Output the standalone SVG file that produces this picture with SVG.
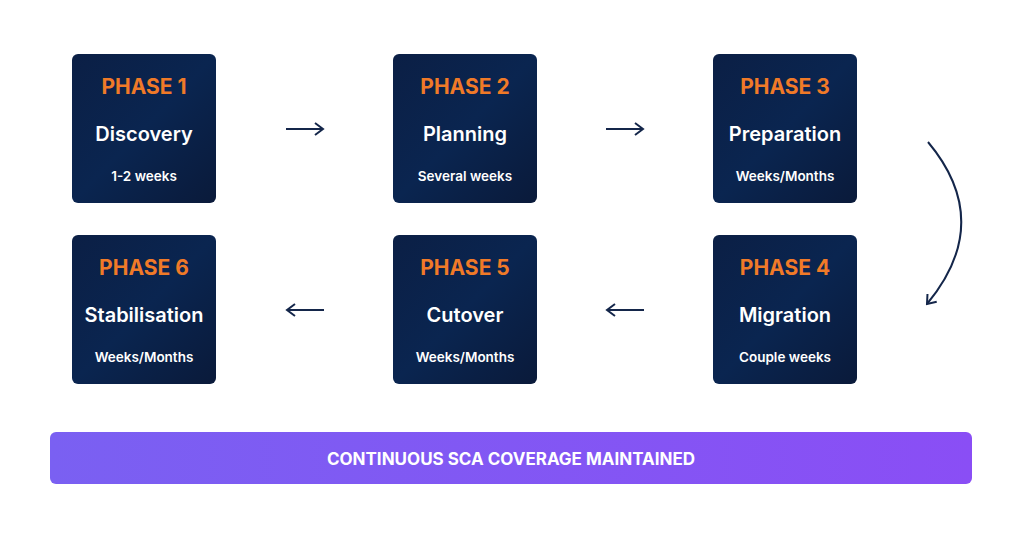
<svg xmlns="http://www.w3.org/2000/svg" width="1024" height="538" viewBox="0 0 1024 538">
<defs>
<linearGradient id="bg" x1="0" y1="0" x2="1" y2="1"><stop offset="0" stop-color="#0b1f45"/><stop offset="0.5" stop-color="#0a2550"/><stop offset="1" stop-color="#0a1a3a"/></linearGradient>
<linearGradient id="bar" x1="0" y1="0" x2="1" y2="0"><stop offset="0" stop-color="#7a60f2"/><stop offset="1" stop-color="#8a4ef5"/></linearGradient>
<marker id="ah" viewBox="0 0 14 14" refX="12" refY="7" markerWidth="14" markerHeight="14" markerUnits="userSpaceOnUse" orient="auto"><path d="M4,1 L12,7 L4,13" fill="none" stroke="#14264a" stroke-width="2"/></marker>
<style>
.box{fill:url(#bg)}
.ph{font-family:"Inter","Liberation Sans",sans-serif;font-weight:700;font-size:21px;fill:#f07a28;text-anchor:middle}
.nm{font-family:"Inter","Liberation Sans",sans-serif;font-weight:600;font-size:20px;fill:#fff;text-anchor:middle}
.du{font-family:"Inter","Liberation Sans",sans-serif;font-weight:600;font-size:13.5px;fill:#fff;text-anchor:middle}
.c{fill:none;stroke:#14264a;stroke-width:2}
</style>
</defs>
<rect width="1024" height="538" fill="#fff"/>
<g id="p1"><rect class="box" x="72" y="54" width="144" height="149" rx="6"/><text class="ph" x="144" y="94">PHASE 1</text><text class="nm" x="144" y="141">Discovery</text><text class="du" x="144" y="181">1-2 weeks</text></g>
<g id="p2"><rect class="box" x="393" y="54" width="144" height="149" rx="6"/><text class="ph" x="465" y="94">PHASE 2</text><text class="nm" x="465" y="141">Planning</text><text class="du" x="465" y="181">Several weeks</text></g>
<g id="p3"><rect class="box" x="713" y="54" width="144" height="149" rx="6"/><text class="ph" x="785" y="94">PHASE 3</text><text class="nm" x="785" y="141">Preparation</text><text class="du" x="785" y="181">Weeks/Months</text></g>
<g id="p4"><rect class="box" x="713" y="235" width="144" height="149" rx="6"/><text class="ph" x="785" y="275">PHASE 4</text><text class="nm" x="785" y="322">Migration</text><text class="du" x="785" y="362">Couple weeks</text></g>
<g id="p5"><rect class="box" x="393" y="235" width="144" height="149" rx="6"/><text class="ph" x="465" y="275">PHASE 5</text><text class="nm" x="465" y="322">Cutover</text><text class="du" x="465" y="362">Weeks/Months</text></g>
<g id="p6"><rect class="box" x="72" y="235" width="144" height="149" rx="6"/><text class="ph" x="144" y="275">PHASE 6</text><text class="nm" x="144" y="322">Stabilisation</text><text class="du" x="144" y="362">Weeks/Months</text></g>
<g id="connectors">
<line class="c" x1="286" y1="129" x2="323" y2="129" marker-end="url(#ah)"/>
<line class="c" x1="606" y1="129" x2="643" y2="129" marker-end="url(#ah)"/>
<path class="c" d="M928,142 Q995,222 927,304" marker-end="url(#ah)"/>
<line class="c" x1="324" y1="310" x2="287" y2="310" marker-end="url(#ah)"/>
<line class="c" x1="644" y1="310" x2="607" y2="310" marker-end="url(#ah)"/>
</g>
<g id="banner"><rect x="50" y="432" width="922" height="52" rx="6" fill="url(#bar)"/><text x="511" y="465" font-family="Inter,'Liberation Sans',sans-serif" font-weight="700" font-size="17" fill="#fff" text-anchor="middle">CONTINUOUS SCA COVERAGE MAINTAINED</text></g>
</svg>
